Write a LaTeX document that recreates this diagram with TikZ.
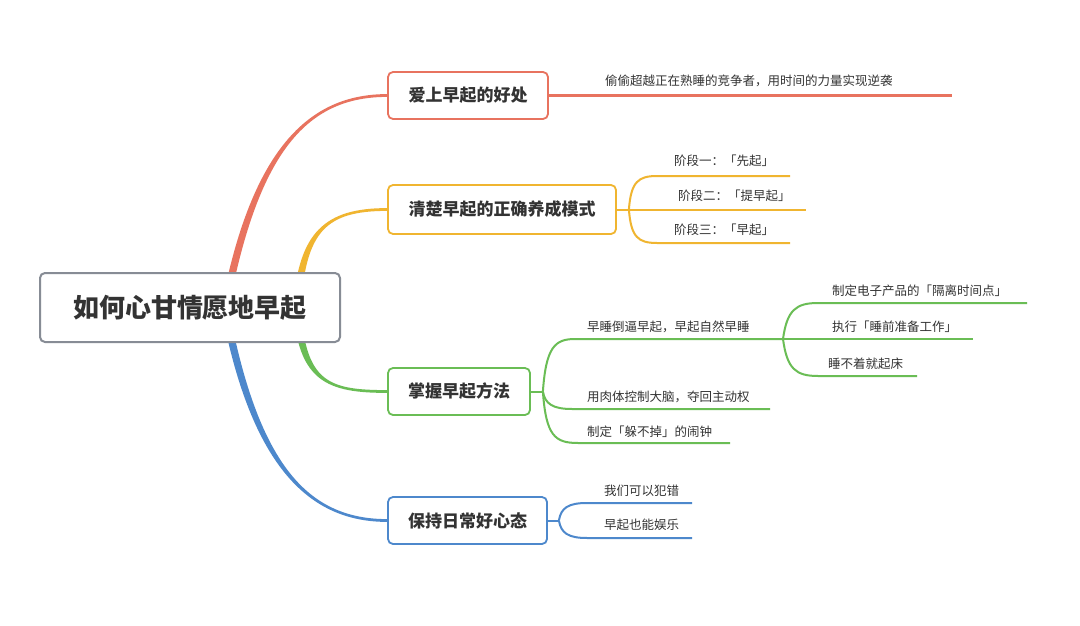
\documentclass[tikz,border=0pt]{standalone}
\usepackage{fontspec}
\setmainfont{Noto Sans CJK SC}
\usetikzlibrary{calc,backgrounds}
\definecolor{cred}{HTML}{E8735F}
\definecolor{cyel}{HTML}{F0B530}
\definecolor{cgrn}{HTML}{6ABD55}
\definecolor{cblu}{HTML}{4D88CC}
\definecolor{cgry}{HTML}{878C95}
\definecolor{ctxt}{HTML}{333333}
% #1 colour, #2 start, #3 control 1, #4 control 2, #5 end, #6 signed end half-width
\newcommand\mmtaper[6]{%
  \fill[#1] ($(#2)+(-3.8,0)$) .. controls ($(#3)+(-3.8,0)$) and ($(#4)+(0,-#6)$) .. ($(#5)+(0,-#6)$)
    -- ($(#5)+(0,#6)$) .. controls ($(#4)+(0,#6)$) and ($(#3)+(3.8,0)$) .. ($(#2)+(3.8,0)$) -- cycle;}
\begin{document}
\begin{tikzpicture}[x=1pt,y=-1pt,
  rootbox/.style={draw=cgry, line width=2pt, rounded corners=5pt, fill=white,
    minimum width=300pt, minimum height=69pt, font=\fontsize{26}{30}\selectfont\bfseries,
    text=ctxt, inner sep=0pt},
  topicbox/.style={draw=#1, line width=1.8pt, rounded corners=5pt, fill=white,
    minimum height=47pt, font=\fontsize{17}{20}\selectfont\bfseries, text=ctxt, inner sep=0pt},
  leaf/.style={anchor=west, inner sep=0pt, font=\fontsize{12.5}{14}\selectfont, text=ctxt},
  branch/.style={draw=#1, line width=2pt},
]
\useasboundingbox (0,0) rectangle (1080,626);

% nodes
\node[rootbox] (root) at (190,307.5) {如何心甘情愿地早起};
\node[topicbox=cred, minimum width=160pt] (b1) at (468,95.5) {爱上早起的好处};
\node[topicbox=cyel, minimum width=228pt, minimum height=49pt] (b2) at (502,209.5) {清楚早起的正确养成模式};
\node[topicbox=cgrn, minimum width=142pt] (b3) at (459,391.5) {掌握早起方法};
\node[topicbox=cblu, minimum width=159pt] (b4) at (467.5,520.5) {保持日常好心态};

% main tapered branches
\coordinate (rs) at ($(root.center)+(35,0)$);
\coordinate (ys) at ($(root.center)+(107,0)$);
\coordinate (gs) at ($(root.center)+(107,1)$);
\coordinate (bs) at ($(root.center)+(35,1)$);
\begin{scope}[on background layer]
\fill[white] (0,0) rectangle (1080,626);
\mmtaper{cred}{rs}{255,150}{308,95.5}{b1.west}{1.4}
\mmtaper{cyel}{ys}{302,232}{325,209.5}{b2.west}{1.4}
\mmtaper{cgrn}{gs}{302,382}{328,391.5}{b3.west}{-1.4}
\mmtaper{cblu}{bs}{255,468}{310,520.5}{b4.west}{-1.4}
\end{scope}

% red
\coordinate (r1) at (952,95.5);
\draw[branch=cred, line width=2.5pt] (b1.east) -- (r1);
\node[leaf] (l1) at (605,81) {偷偷超越正在熟睡的竞争者，用时间的力量实现逆袭};

% yellow
\coordinate (y0) at ($(b2.east)+(12,0)$);
\coordinate (y1) at (790,176);
\coordinate (y2) at (806,209.5);
\coordinate (y3) at (790,243);
\draw[branch=cyel] (b2.east) -- (y2);
\draw[branch=cyel] (y0) .. controls (631,182) and (638,176) .. (657,176) -- (y1);
\draw[branch=cyel] (y0) .. controls (631,237) and (638,243) .. (657,243) -- (y3);
\node[leaf] (l21) at (674,161) {阶段一：「先起」};
\node[leaf] (l22) at (678,196) {阶段二：「提早起」};
\node[leaf] (l23) at (674,230) {阶段三：「早起」};

% green
\coordinate (g0) at ($(b3.east)+(12,0)$);
\coordinate (g1) at (783,339);
\coordinate (g11) at (1027,303);
\coordinate (g12) at (973,339);
\coordinate (g13) at (917,376);
\coordinate (g2) at (770,409);
\coordinate (g3) at (730,443);
\draw[branch=cgrn] (b3.east) -- (g0);
\draw[branch=cgrn] (g0) .. controls (546,347) and (555,339) .. (575,339) -- (g1);
\draw[branch=cgrn] (g0) .. controls (545,404) and (553,409) .. (572,409) -- (g2);
\draw[branch=cgrn] (g0) .. controls (546,436) and (555,443) .. (578,443) -- (g3);
\draw[branch=cgrn] (g1) .. controls (787,310) and (796,303) .. (818,303) -- (g11);
\draw[branch=cgrn] (g1) -- (g12);
\draw[branch=cgrn] (g1) .. controls (787,369) and (796,376) .. (818,376) -- (g13);
\node[leaf] (l31) at (587,327) {早睡倒逼早起，早起自然早睡};
\node[leaf] (l32) at (587,397) {用肉体控制大脑，夺回主动权};
\node[leaf] (l33) at (587,432) {制定「躲不掉」的闹钟};
\node[leaf] (l311) at (832,291) {制定电子产品的「隔离时间点」};
\node[leaf] (l312) at (832,327) {执行「睡前准备工作」};
\node[leaf] (l313) at (828,364) {睡不着就起床};

% blue
\coordinate (u0) at ($(b4.east)+(11,0)$);
\coordinate (u1) at (692,503);
\coordinate (u2) at (692,538);
\draw[branch=cblu] (b4.east) -- (u0);
\draw[branch=cblu] (u0) .. controls (561,508) and (568,503) .. (587,503) -- (u1);
\draw[branch=cblu] (u0) .. controls (561,533) and (568,538) .. (587,538) -- (u2);
\node[leaf] (l41) at (604,491) {我们可以犯错};
\node[leaf] (l42) at (604,525) {早起也能娱乐};
\end{tikzpicture}
\end{document}
